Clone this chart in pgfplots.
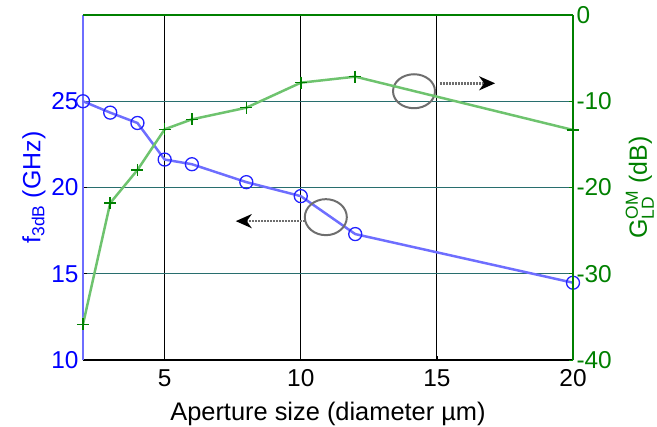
\documentclass[border=0pt]{standalone}
\usepackage{pgfplots}
\pgfplotsset{compat=1.18}
\usepackage{amsmath}
\usepackage{fontspec}
\setmainfont{Liberation Sans}
\usetikzlibrary{arrows.meta}
\definecolor{mblue}{RGB}{0,0,255}
\definecolor{lblue}{RGB}{110,110,255}
\definecolor{mgreen}{RGB}{0,128,0}
\definecolor{lgreen}{RGB}{110,195,110}
\definecolor{gridteal}{RGB}{40,110,110}
\definecolor{annot}{RGB}{110,110,110}
\begin{document}
\begin{tikzpicture}
\useasboundingbox (-83bp,-67bp) rectangle (574bp,360bp);
\begin{axis}[
  scale only axis, width=490bp, height=345bp,
  at={(0,0)}, anchor=south west,
  xmin=2, xmax=20, ymin=10, ymax=30,
  xtick={5,10,15,20}, ytick={10,15,20,25},
  axis x line*=bottom, axis y line*=left,
  x axis line style={black, line width=1.5pt},
  y axis line style={lblue, line width=2.5pt},
  xmajorgrids, ymajorgrids,
  x grid style={black, line width=1pt},
  y grid style={gridteal, line width=1pt},
  tick style={black, line width=0.6pt},
  major tick length=4bp,
  tick align=inside,
  ticklabel style={font=\fontsize{24.5}{28}\selectfont},
  xticklabel style={yshift=-6bp},
  yticklabel style={mblue, xshift=-1bp},
  /pgf/number format/assume math mode=true,
  xlabel={Aperture size (diameter µm)},
  xlabel style={font=\fontsize{25.5}{29}\selectfont, yshift=-8bp},
  ylabel={f$_{\text{3dB}}$ (GHz)},
  ylabel style={font=\fontsize{25}{29}\selectfont, mblue, yshift=-1bp},
]
\addplot[lblue, line width=2.5pt, mark=o, mark size=6.5bp,
  mark options={mblue!70!lblue, line width=1.3pt}]
  coordinates {(2,25.0) (3,24.34) (4,23.74) (5,21.62) (6,21.35) (8,20.31) (10,19.5) (12,17.3) (20,14.48)};
\draw[annot, line width=2pt] (axis cs:10.92,18.28) ellipse [x radius=21bp, y radius=18bp];
\draw[annot, line width=2.5pt, dash pattern=on 2pt off 1pt,
  -{Stealth[black, length=16bp, width=14bp, inset=5bp]}]
  (axis cs:10.15,18.05) -- (axis cs:7.61,18.05);
\draw[annot, line width=2pt] (axis cs:14.16,25.58) ellipse [x radius=21bp, y radius=17bp];
\draw[annot, line width=2.5pt, dash pattern=on 2pt off 1pt,
  -{Stealth[black, length=16bp, width=14bp, inset=5bp]}]
  (axis cs:15.11,26.04) -- (axis cs:17.14,26.04);
\end{axis}
\begin{axis}[
  scale only axis, width=490bp, height=345bp,
  at={(0,0)}, anchor=south west,
  xmin=2, xmax=20, ymin=-40, ymax=0,
  xtick=\empty, ytick={-40,-30,-20,-10,0},
  axis x line*=top, axis y line*=right,
  x axis line style={mgreen, line width=1.2pt},
  y axis line style={mgreen, line width=2pt},
  tick style={mgreen, line width=0.6pt},
  major tick length=4bp,
  tick align=inside,
  ticklabel style={font=\fontsize{24.5}{28}\selectfont, mgreen},
  yticklabel style={xshift=0bp},
  /pgf/number format/assume math mode=true,
  ylabel={G$^{\text{OM}}_{\text{LD}}$ (dB)},
  ylabel style={font=\fontsize{25}{29}\selectfont, mgreen, yshift=-7bp},
]
\addplot[lgreen, line width=2.5pt, mark=+, mark size=6bp,
  mark options={mgreen, line width=1.5pt}]
  coordinates {(2,-35.86) (3,-21.8) (4,-17.97) (5,-13.25) (6,-12.1) (8,-10.75) (10,-7.85) (12,-7.15) (20,-13.33)};
\end{axis}
\end{tikzpicture}
\end{document}
